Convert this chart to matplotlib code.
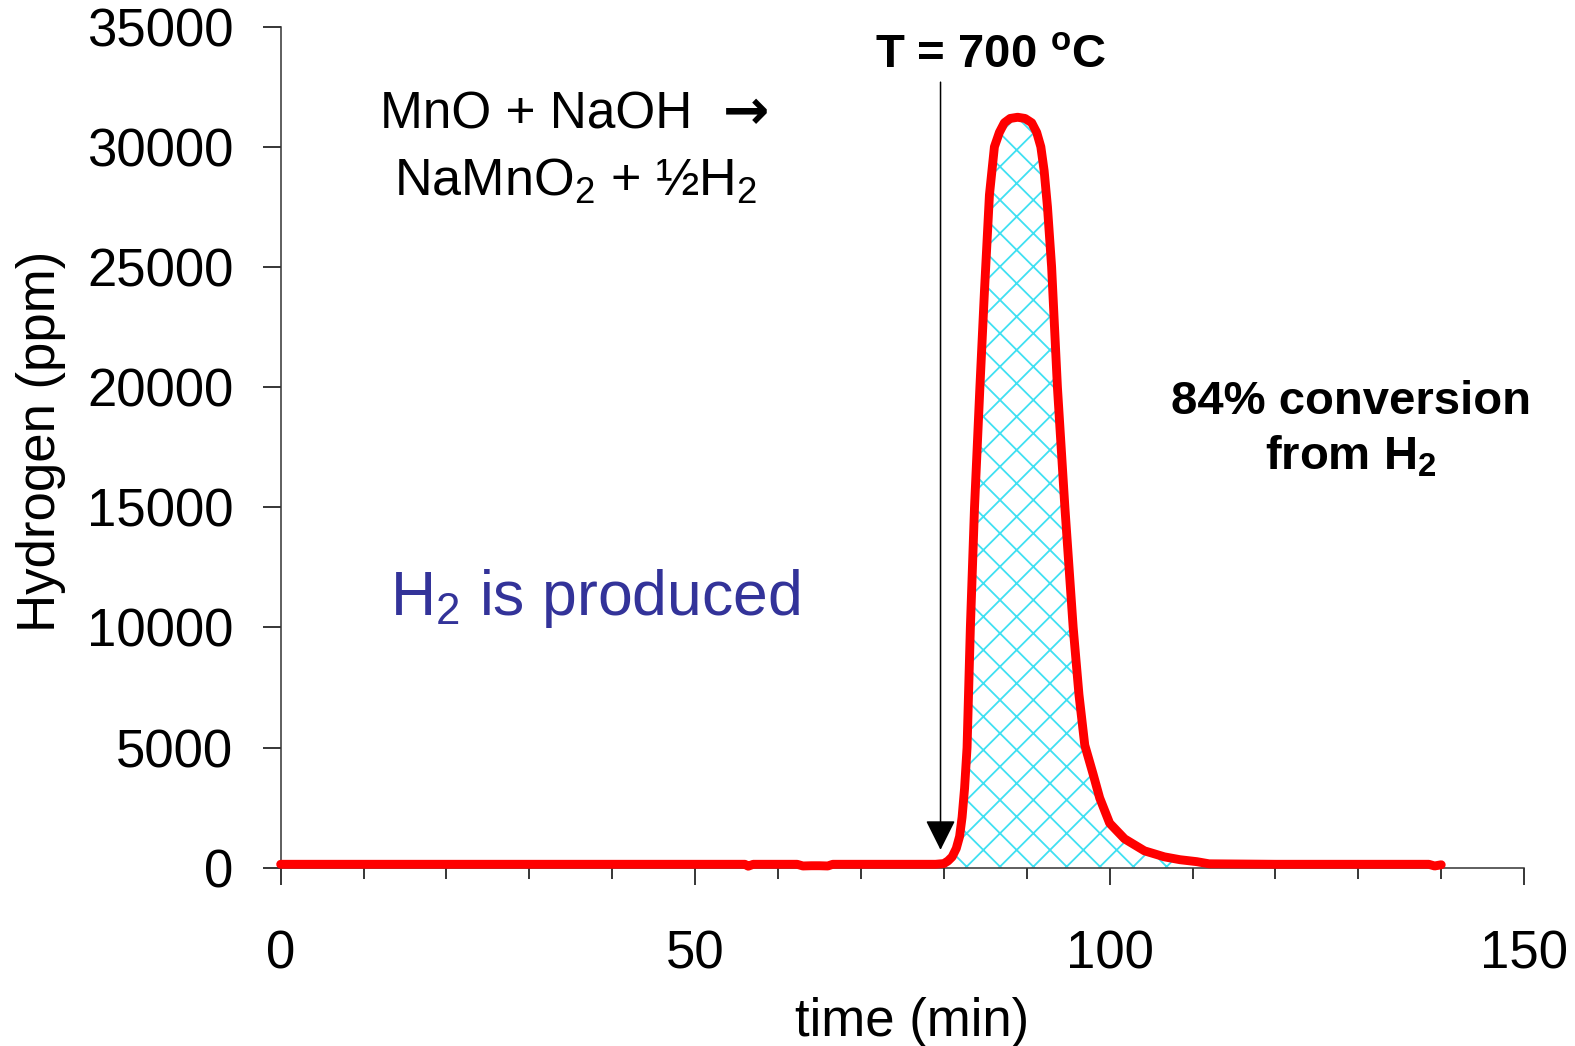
import numpy as np
import matplotlib.pyplot as plt
from matplotlib.ticker import MultipleLocator

plt.rcParams['font.family'] = ['Liberation Sans', 'DejaVu Sans']
plt.rcParams['hatch.linewidth'] = 1.3

# данные: время (мин) и водород (ppm)
time_min = [0, 10, 20, 30, 40, 50, 56.0, 56.4, 57.0, 60, 62.3, 63.0, 64.0, 65.0, 66.0, 66.6,
            70, 75, 79, 80.0, 80.5, 81.0, 81.5, 81.9, 82.2, 82.5, 82.8, 83.2, 83.7, 84.35,
            84.9, 85.5, 86.1, 86.7, 87.3, 88.0, 88.9, 89.8, 90.6, 91.2, 91.7, 92.1, 92.5,
            93.0, 93.7, 94.6, 95.6, 96.3, 97.0, 98.0, 98.8, 100.0, 101.8, 104.2, 106.6, 108.5,
            110.5, 112, 120, 130, 138.5, 139.2, 140]
h2_ppm = [140, 140, 140, 140, 140, 140, 140, 60, 140, 140, 140, 70, 80, 80, 70, 140,
          140, 140, 140, 170, 280, 450, 800, 1300, 2100, 3300, 5000, 10000, 15000, 20000,
          24000, 28000, 30000, 30600, 31000, 31180, 31230, 31180, 31000, 30600, 30000, 29000, 27500,
          25000, 20000, 15000, 10000, 7200, 5100, 3900, 2900, 1850, 1200, 700, 450, 330,
          250, 160, 140, 140, 140, 70, 120]

x_ticks = [0, 50, 100, 150]
y_ticks = [0, 5000, 10000, 15000, 20000, 25000, 30000, 35000]

t = np.array(time_min)
h = np.array(h2_ppm)

fig = plt.figure(figsize=(15.75, 10.46), dpi=100)
ax = fig.add_axes([0.1782, 0.1705, 0.7895, 0.804])

# заштрихованная площадь под пиком
mask = (t >= 80.5) & (t <= 108.5)
ax.fill_between(t, h, 0, where=mask, facecolor='white', edgecolor='#3FE0F2',
                hatch='x', linewidth=0, zorder=1)

ax.plot(t, h, color='#FF0000', linewidth=6.4, solid_capstyle='round',
        solid_joinstyle='round', clip_on=False, zorder=3)

# стрелка момента T = 700 C
ax.annotate('', xy=(79.6, 740), xytext=(79.6, 32690),
            arrowprops=dict(arrowstyle='-|>,head_length=0.94,head_width=0.47',
                            mutation_scale=20, color='black', lw=1.1,
                            shrinkA=0, shrinkB=0), zorder=4)

ax.set_xlim(0, 150)
ax.set_ylim(0, 35000)
ax.set_xticks(x_ticks)
ax.set_yticks(y_ticks)
ax.xaxis.set_minor_locator(MultipleLocator(10))

for side in ['top', 'right']:
    ax.spines[side].set_visible(False)
for side in ['left', 'bottom']:
    ax.spines[side].set_color('#333333')
    ax.spines[side].set_linewidth(1.1)

ax.tick_params(axis='x', which='major', direction='out', length=12.2, width=1.1,
               pad=32, labelsize=38)
ax.tick_params(axis='x', which='minor', direction='out', length=7.9, width=1.1)
ax.tick_params(axis='y', which='major', direction='out', length=13, width=1.1,
               pad=21, labelsize=38)

ax.set_xlabel('time (min)', fontsize=38)
ax.xaxis.set_label_coords(0.5075, -0.1534)
ax.set_ylabel('Hydrogen (ppm)', fontsize=38, va='center')
ax.yaxis.set_label_coords(-0.1928, 0.5074)

ax.text(12.0, 30760, 'MnO + NaOH', fontsize=37, ha='left', va='baseline')
ax.text(53.4, 30760, '\u2192', fontsize=40, ha='left', va='baseline',
        family='DejaVu Sans', fontweight='bold')
ax.text(35.6, 27960, r'NaMnO$\mathregular{_2}$ + ½H$\mathregular{_2}$', fontsize=37.5,
        ha='center', va='baseline')
ax.text(85.7, 33313, r'T = 700 $\mathregular{^o}$C', fontsize=34, fontweight='bold',
        ha='center', va='baseline')
ax.text(129.1, 18870, '84% conversion', fontsize=34, fontweight='bold',
        ha='center', va='baseline')
ax.text(129.1, 16550, r'from H$\mathregular{_2}$', fontsize=34, fontweight='bold',
        ha='center', va='baseline')
ax.text(13.2, 10525, r'H$\mathregular{_2}$ is produced', fontsize=45, color='#333399',
        ha='left', va='baseline')

fig.savefig('out.png', dpi=100)
